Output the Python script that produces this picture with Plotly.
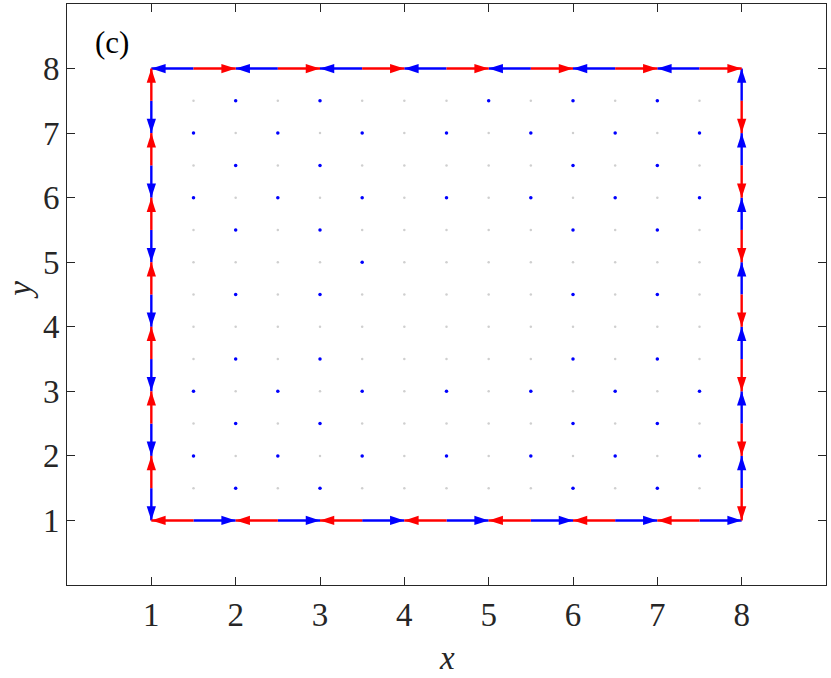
import math
import plotly.graph_objects as go

# interior grid of the quiver (both axes)
grid_vals = [1.5, 2, 2.5, 3, 3.5, 4, 4.5, 5, 5.5, 6, 6.5, 7, 7.5]

# tails of the boundary arrows
tail_pos = [1.5, 2.5, 3.5, 4.5, 5.5, 6.5, 7.5]

# red field on the boundary: tails and (u, v) per edge
red_x = tail_pos + tail_pos + [1] * 7 + [8] * 7
red_y = [8] * 7 + [1] * 7 + tail_pos + tail_pos
red_u = [0.5] * 7 + [-0.5] * 7 + [0] * 7 + [0] * 7
red_v = [0] * 7 + [0] * 7 + [0.5] * 7 + [-0.5] * 7

# blue field on the boundary
blue_x = tail_pos + tail_pos + [1] * 7 + [8] * 7
blue_y = [8] * 7 + [1] * 7 + tail_pos + tail_pos
blue_u = [-0.5] * 7 + [0.5] * 7 + [0] * 7 + [0] * 7
blue_v = [0] * 7 + [0] * 7 + [-0.5] * 7 + [0.5] * 7

# interior points where the blue field leaves a visible dot
dot_rows = [7.5, 7, 6.5, 6, 5.5, 5, 4.5, 4, 3.5, 3, 2.5, 2, 1.5]
blue_dots_by_row = [
    [2, 3, 5, 6, 7],
    [1.5, 2.5, 3.5, 4.5, 5.5, 6.5, 7.5],
    [2, 3, 6, 7],
    [1.5, 2.5, 3.5, 4.5, 5.5, 6.5, 7.5],
    [2, 3, 6, 7],
    [3.5],
    [2, 3, 6, 7],
    [],
    [2, 3, 6, 7],
    [1.5, 2.5, 3.5, 4.5, 5.5, 6.5, 7.5],
    [2, 3, 6, 7],
    [1.5, 2.5, 3.5, 4.5, 5.5, 6.5, 7.5],
    [2, 3, 6, 7],
]

AXIS_COL = "#262626"
FONT = "Liberation Serif"


def add_quiver(fig, xs, ys, us, vs, color):
    line_x, line_y = [], []
    tip_x, tip_y, tip_ang = [], [], []
    for x, y, u, v in zip(xs, ys, us, vs):
        line_x += [x, x + u, None]
        line_y += [y, y + v, None]
        tip_x.append(x + u)
        tip_y.append(y + v)
        tip_ang.append(math.degrees(math.atan2(u, v)))

    fig.add_trace(
        go.Scatter(
            x=line_x,
            y=line_y,
            mode="lines",
            line=dict(color=color, width=2.4),
            hoverinfo="skip",
            showlegend=False
        )
    )
    fig.add_trace(
        go.Scatter(
            x=tip_x,
            y=tip_y,
            mode="markers",
            marker=dict(symbol="arrow", size=15, angle=tip_ang, color=color,
                        line=dict(width=0)),
            hoverinfo="skip",
            showlegend=False
        )
    )
    return None


fig = go.Figure()

# light gray dots on the whole interior grid
gx = [x for y in grid_vals for x in grid_vals]
gy = [y for y in grid_vals for x in grid_vals]
fig.add_trace(
    go.Scatter(
        x=gx, y=gy, mode="markers",
        marker=dict(size=2.5, color="#cfcfcf"),
        hoverinfo="skip", showlegend=False
    )
)

bx = [x for y, row in zip(dot_rows, blue_dots_by_row) for x in row]
by = [y for y, row in zip(dot_rows, blue_dots_by_row) for x in row]
fig.add_trace(
    go.Scatter(
        x=bx, y=by, mode="markers",
        marker=dict(size=3.5, color="#0000ff"),
        hoverinfo="skip", showlegend=False
    )
)

add_quiver(fig, blue_x, blue_y, blue_u, blue_v, "#0000ff")
add_quiver(fig, red_x, red_y, red_u, red_v, "#ff0000")

axis_style = dict(
    range=[0, 9],
    tickvals=[1, 2, 3, 4, 5, 6, 7, 8],
    ticks="inside",
    ticklen=8,
    tickcolor=AXIS_COL,
    showline=True,
    linecolor=AXIS_COL,
    linewidth=1,
    mirror="ticks",
    showgrid=False,
    zeroline=False,
    automargin=False,
    tickfont=dict(family=FONT, size=33, color=AXIS_COL)
)

title_font = dict(family=FONT, size=33, color=AXIS_COL)

fig.update_layout(
    width=831,
    height=678,
    margin=dict(l=67, r=5, t=4, b=93),
    paper_bgcolor="white",
    plot_bgcolor="white",
    xaxis=axis_style,
    yaxis=axis_style,
    annotations=[
        dict(text="(c)", x=0.034, y=0.933, xref="paper", yref="paper",
             xanchor="left", yanchor="middle", showarrow=False,
             font=dict(family=FONT, size=31, color="black")),
        dict(text="<i>x</i>", x=0.5, y=-0.158, xref="paper", yref="paper",
             xanchor="center", yanchor="bottom", showarrow=False,
             borderpad=0, font=title_font),
        dict(text="<i>y</i>", x=-0.0870, y=0.508, xref="paper", yref="paper",
             xanchor="left", yanchor="middle", showarrow=False,
             borderpad=0, textangle=-90, font=title_font)
    ]
)

# the page body has a default 8px margin; drop it so the figure sits at 0,0
fig.write_html("out.html", config={"displayModeBar": False},
               post_script="document.body.style.margin='0';")
